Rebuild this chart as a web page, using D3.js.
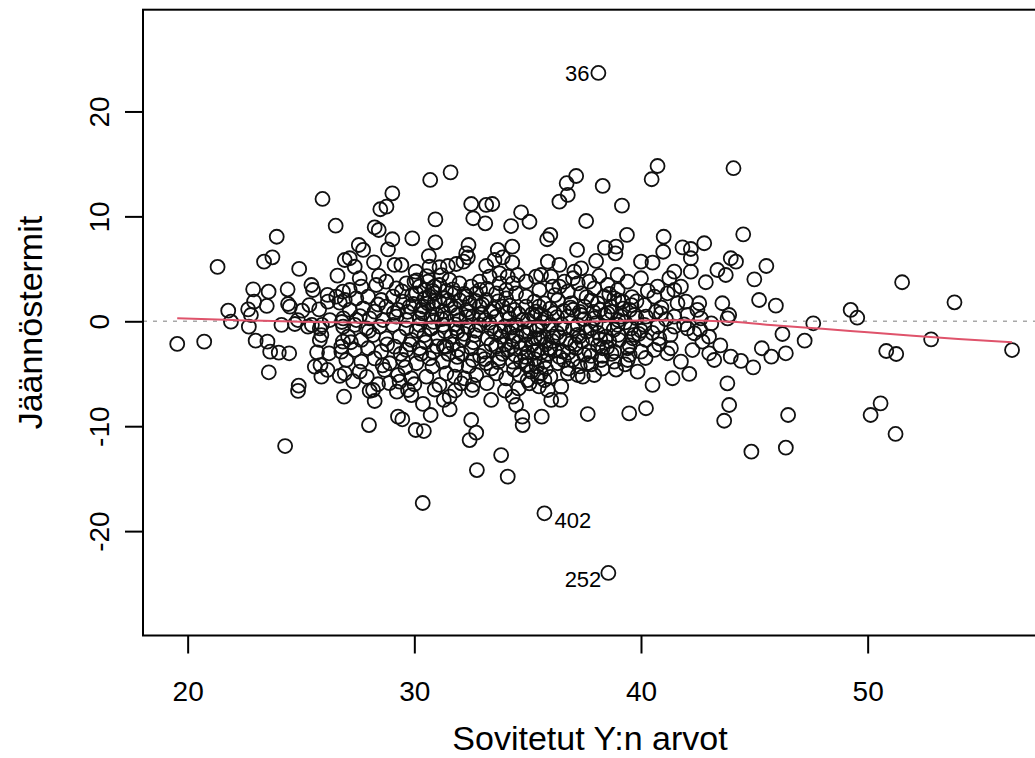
<!DOCTYPE html>
<html>
<head>
<meta charset="utf-8">
<script src="https://cdn.jsdelivr.net/npm/d3@7"></script>
<style>
  body { margin: 0; background: #fff; }
  svg { display: block; }
  text { font-family: "Liberation Sans", Arial, Helvetica, sans-serif; fill: #000; }
</style>
</head>
<body>
<svg id="chart" width="1035" height="758"></svg>
<script>
// Residuals vs fitted values of a linear model: [fitted, residual] pairs.
const xTickValues = [20, 30, 40, 50];
const yTickValues = [-20, -10, 0, 10, 20];
const xTitle = "Sovitetut Y:n arvot";
const yTitle = "Jäännöstermit";

const lowFitted = [
  [25.95,11.66],[26.53,9.11],[23.93,8.06],[23.37,5.68],[23.74,6.10],[21.32,5.18],[24.92,4.99],[26.61,4.35],
  [26.93,5.84],[22.89,3.05],[23.57,2.82],[24.41,3.05],[25.46,3.46],[25.53,2.98],[26.17,2.51],[26.56,2.35],
  [26.85,2.82],[22.93,1.87],[22.67,1.14],[23.49,1.46],[24.43,1.65],[24.51,1.39],[25.37,1.55],[25.05,1.01],
  [25.80,1.14],[26.19,1.87],[26.71,1.77],[21.79,1.01],[21.91,-0.04],[22.79,0.60],[24.14,-0.35],[24.73,-0.26],
  [24.86,0.12],[25.48,-0.35],[25.92,-0.35],[26.27,0.12],[26.80,-0.07],[22.70,-0.51],[19.54,-2.16],[20.73,-1.94],
  [23.00,-1.85],[23.52,-1.94],[23.64,-2.90],[24.02,-2.99],[24.48,-3.05],[23.58,-4.86],[24.90,-6.14],[24.87,-6.64],
  [24.30,-11.89],[25.31,-0.51],[25.83,-0.67],[25.90,-1.31],[25.83,-1.78],[25.71,-2.96],[26.24,-3.05],[25.61,-4.33],
  [25.86,-4.17],[26.17,-4.64],[25.90,-5.28],[26.71,-5.21],[26.90,-7.19],[26.78,-2.90],[26.85,-1.94]
];

const midUpper = [
  [31.60,14.20],[30.70,13.47],[29.03,12.20],[28.50,10.68],[28.77,10.92],[30.93,9.72],[32.51,11.18],[33.17,11.09],
  [33.44,11.18],[32.60,9.82],[33.13,9.34],[34.71,10.39],[35.08,9.49],[34.27,9.08],[28.25,8.96],[28.43,8.70],
  [29.91,7.91],[29.03,7.82],[30.93,7.53],[32.39,7.27],[34.32,7.11],[27.55,7.27],[27.74,6.80],[28.84,6.86],
  [33.68,6.80],[30.64,6.22],[27.15,6.01],[28.22,5.62],[27.37,5.20],[29.13,5.37],[29.43,5.37],[30.67,5.20],
  [31.11,5.15],[31.48,5.27],[31.85,5.46],[32.17,5.68],[32.36,6.10],[32.29,6.48],[33.17,5.27],[33.54,5.84],
  [33.90,6.10],[34.32,5.59],[27.59,4.10],[28.44,4.32],[30.06,4.73]
];

const midLower = [
  [28.03,-6.64],[28.18,-6.55],[28.25,-7.60],[28.00,-9.89],[29.23,-6.71],[29.72,-6.55],[29.87,-7.03],[29.28,-9.09],
  [29.47,-9.34],[30.06,-10.36],[30.42,-10.46],[30.38,-7.88],[30.72,-8.93],[31.30,-7.50],[31.56,-7.19],[31.56,-8.39],
  [32.51,-9.41],[32.73,-10.62],[32.44,-11.32],[32.54,-6.55],[32.58,-6.07],[33.39,-7.50],[33.83,-12.75],[32.76,-14.18],
  [34.12,-14.81],[30.37,-17.32],[34.34,-7.19],[34.49,-7.98],[34.76,-9.09],[34.78,-9.89],[35.08,-5.91],[26.93,-4.96]
];

const midCore = [
  [27.15,2.98],[27.66,3.30],[28.32,3.46],[28.76,3.78],[29.21,3.14],[29.65,3.62],[30.23,3.30],[30.60,3.78],
  [31.11,3.46],[31.55,3.94],[31.99,3.62],[32.51,3.30],[32.88,3.78],[33.32,4.25],[33.76,4.57],[34.12,4.25],
  [34.56,4.41],[34.93,3.78],[35.37,4.25],
  [26.93,2.03],[27.44,2.19],[27.96,2.35],[28.54,2.03],[29.06,2.35],[29.50,1.87],[30.09,2.67],[30.45,2.19],
  [30.89,2.67],[31.33,2.19],[31.78,2.67],[32.29,2.35],[32.73,2.67],[33.17,2.03],[33.61,2.67],[34.05,2.19],
  [34.49,2.67],[34.93,2.35],[35.30,1.87],
  [27.15,1.08],[27.74,1.24],[28.25,0.92],[28.76,1.40],[29.28,1.08],[29.79,1.40],[30.31,1.08],[30.82,1.40],
  [31.26,0.92],[31.78,1.24],[32.29,1.08],[32.88,1.40],[33.39,0.92],[33.90,1.40],[34.42,1.08],[34.93,1.40],
  [35.37,0.92],
  [26.86,0.28],[27.44,0.12],[28.03,0.28],[28.62,0.12],[29.21,0.44],[29.65,0.12],[30.23,0.28],[30.75,0.44],
  [31.41,0.28],[31.99,0.12],[32.58,0.44],[33.10,0.12],[33.61,0.44],[34.20,0.28],[34.78,0.12],[35.30,0.44],
  [30.01,3.78],[30.45,2.98],[30.89,3.30],[30.67,2.35],[31.11,1.87],[33.76,3.62],[34.05,2.98],[34.34,3.62],
  [26.86,-0.51],[27.37,-0.35],[27.88,-0.67],[28.47,-0.51],[29.06,-0.35],[29.65,-0.67],[30.23,-0.35],[30.75,-0.67],
  [31.26,-0.35],[31.85,-0.67],[32.36,-0.51],[32.88,-0.35],[33.39,-0.67],[33.98,-0.51],[34.49,-0.35],[35.08,-0.67],
  [27.08,-1.47],[27.66,-1.78],[28.18,-1.31],[28.76,-1.62],[29.35,-1.47],[29.87,-1.78],[30.45,-1.31],[31.04,-1.62],
  [31.63,-1.47],[32.14,-1.78],[32.66,-1.31],[33.24,-1.62],[33.83,-1.47],[34.34,-1.78],[34.93,-1.31],[35.44,-1.62],
  [26.78,-2.42],[27.37,-2.73],[27.96,-2.57],[28.54,-2.89],[29.13,-2.42],[29.65,-2.73],[30.23,-2.57],[30.82,-2.89],
  [31.41,-2.42],[31.92,-2.73],[32.51,-2.57],[33.10,-2.89],[33.61,-2.42],[34.12,-2.73],[34.71,-2.57],[35.30,-2.89],
  [27.00,-3.69],[27.66,-3.84],[28.25,-3.53],[28.91,-4.00],[29.50,-3.69],[30.09,-4.00],[30.67,-3.53],[31.26,-3.84],
  [31.85,-4.16],[32.58,-3.69],[33.17,-4.00],[33.76,-3.53],[34.34,-3.84],[34.93,-4.16],
  [27.59,-4.80],[28.69,-4.64],[29.28,-5.12],[29.87,-5.44],[30.53,-5.28],[31.41,-4.96],[31.78,-5.28],[32.22,-5.44],
  [32.73,-5.12],[33.61,-4.96],[34.05,-5.44],[34.64,-5.12],[35.15,-4.80],[29.35,-5.75],[32.07,-5.91],[31.11,-6.07]
];

// the densest part of the cloud
const midCoreDense = [
  [29.45,2.85],[29.95,1.65],[30.35,0.75],[30.85,-0.05],[31.35,-0.95],[31.70,-2.20],[32.10,-3.10],[32.45,1.75],
  [32.95,0.65],[33.30,-0.15],[33.55,-1.05],[34.00,-2.20],[34.45,-3.20],[34.80,-1.00],[35.20,0.70],[35.65,-0.10],
  [36.00,1.20],[36.30,-1.10],[36.90,-2.10],[37.50,-3.20],[38.10,-1.10],[38.70,0.90],[39.30,-0.10],[39.90,-1.20],
  [30.10,3.90],[30.55,4.30],[31.20,4.40],[31.70,3.05],[32.20,2.60],[32.70,1.95],[33.20,3.10],[33.70,1.90],
  [34.20,1.50],[34.60,0.70],[29.80,-2.20],[30.30,-3.10],[30.80,-4.30],[31.30,-2.40],[31.90,-3.40],[32.40,-4.30],
  [32.90,-3.30],[33.40,-4.50],[33.90,-3.10],[34.40,-4.60],[34.90,-3.40],[35.40,-4.30],[35.90,-3.10],[36.40,-3.40],
  [36.80,-4.50],[37.30,-4.30],[37.80,-3.30],[38.30,-4.50],[38.90,-4.60],[39.50,-3.20],[35.00,-5.60],[35.50,-6.20],
  [34.60,-6.40],[36.00,-5.30],[33.20,-5.90],[34.00,-6.60],[30.00,-6.00],[30.90,-6.50],[31.80,-6.60],[27.30,-5.70],
  [27.90,-5.30],[28.40,-6.00],[28.90,-5.90],
  [29.70,0.90],[30.10,-0.90],[30.50,-2.00],[30.90,1.90],[31.20,0.20],[31.50,-3.10],[31.90,0.60],[32.20,-1.20],
  [32.60,-2.00],[32.90,3.00],[33.10,-3.60],[33.50,1.20],[33.80,-0.90],[34.10,0.80],[34.30,-2.40],[34.70,-3.80],
  [35.00,0.10],[35.20,-2.20],[35.50,1.40],[35.80,-4.50],[36.10,-1.90],[36.30,0.40],[36.60,-3.70],[36.90,1.30],
  [37.20,-1.30],[37.50,0.20],[37.80,-4.10],[38.10,-2.30],[38.40,0.60],[38.70,-3.10],[39.00,-1.30],[39.20,1.20],
  [39.50,-2.30],[39.80,0.30],[40.20,-3.50],[40.50,-1.10],[40.80,-2.20],[41.10,0.20],
  [29.90,2.50],[30.40,1.40],[30.70,-0.70],[31.00,-2.40],[31.50,2.00],[31.80,-0.30],[32.30,0.40],[32.70,-0.90],
  [33.00,1.60],[33.40,-2.20],[33.70,-3.90],[34.20,-1.10],[34.60,-2.00],[35.00,-3.00],[35.40,-0.80],[35.80,0.30],
  [36.20,-2.80],[36.60,1.00],[37.00,-0.70],[37.40,-1.90],[37.90,0.90],[38.30,-3.30],[38.60,-1.90],[39.00,2.00],
  [39.30,-4.10],[39.70,-1.30],
  [28.00,-0.90],[28.40,1.60],[28.80,-2.20],[29.10,0.80],[29.40,-3.10],[27.60,0.50],[27.20,-2.00],[28.60,-4.20],
  [29.60,-4.40],
  [30.60,1.70],[31.00,0.60],[31.40,2.90],[31.60,1.50],[32.00,2.00],[32.40,0.90],[30.80,2.90],[31.90,-1.00],
  [34.30,-0.60],[34.90,-2.20],[35.30,-3.60],[35.70,-1.50],[36.00,-2.60],[36.40,-1.50],[36.80,-3.00],[35.00,-4.20],
  [35.60,-3.00],[34.50,-1.40],[37.10,-2.20],[37.60,-1.00],[38.20,-1.70],[38.80,-0.80],[37.30,0.90],[38.50,-2.50]
];

const highUpper = [
  [40.73,14.80],[40.47,13.54],[44.08,14.59],[37.14,13.85],[36.72,13.16],[38.31,12.90],[36.77,12.04],[36.40,11.40],
  [39.16,11.02],[37.58,9.56],[36.00,8.23],[35.86,7.82],[39.38,8.23],[41.00,8.06],[42.79,7.44],[41.83,7.05],
  [42.20,6.89],[42.20,6.01],[37.18,6.80],[38.41,7.02],[38.90,7.11],[38.87,6.48],[40.98,6.63],[40.00,5.68],
  [40.51,5.59],[38.02,5.75],[35.89,5.68],[36.40,5.37],[43.96,6.01],[43.74,4.41],[43.37,4.89],[42.20,4.73],
  [41.47,4.73],[41.25,4.10],[42.86,3.72],[40.73,3.30],[40.00,4.10],[38.97,4.41],[39.41,3.78],[38.16,4.32],
  [37.36,5.05],[37.06,4.73],[43.59,1.72],[43.89,0.60],[42.57,1.72],[42.49,1.08],[41.98,1.87],[41.61,1.72],
  [41.17,2.67],[41.47,2.98],[41.76,3.30],[40.15,1.55],[40.66,0.92],[40.22,0.44],[39.50,1.08],[39.58,1.55]
];

const highCore = [
  [35.59,4.41],[36.03,4.25],[36.62,3.78],[37.21,3.62],[37.72,3.78],[38.53,3.46],[38.97,2.98],[35.52,2.98],
  [36.11,3.30],[36.77,2.82],[37.36,2.67],[37.94,3.14],[38.38,2.35],[38.82,2.19],[40.59,2.35],[35.74,1.71],
  [36.33,2.03],[36.92,1.71],[37.50,1.40],[38.09,1.71],[38.68,1.40],[39.19,1.87],[35.59,0.60],[36.18,0.76],
  [36.77,0.44],[37.36,0.60],[37.94,0.28],[38.53,0.76],[39.12,0.44],[39.71,0.60],[40.88,0.76],[41.47,0.44],
  [42.05,0.60],[42.64,0.28],[43.82,0.28],
  [35.52,-0.51],[36.03,-0.35],[36.62,-0.67],[37.21,-0.35],[37.80,-0.67],[38.38,-0.51],[38.97,-0.35],[39.56,-0.67],
  [40.15,-0.35],[40.73,-0.51],[41.47,-0.51],[42.05,-0.67],[35.59,-1.62],[36.11,-1.47],[36.70,-1.78],[37.28,-1.47],
  [37.87,-1.62],[38.46,-1.47],[39.04,-1.78],[39.63,-1.62],[40.22,-1.78],[40.81,-1.62],[35.45,-2.73],[35.96,-2.57],
  [36.55,-2.89],[37.14,-2.57],[37.72,-2.89],[38.31,-2.57],[38.82,-2.89],[39.41,-2.57],[40.00,-2.89],[40.59,-2.73],
  [35.74,-3.84],[36.33,-4.00],[36.99,-3.69],[37.65,-4.00],[38.24,-3.69],[38.82,-3.84],[39.41,-3.69],[35.59,-4.96],
  [37.21,-5.12],
  [36.40,3.30],[37.00,4.10],[37.60,2.30],[38.20,1.10],[38.60,2.60],[39.00,0.10],[39.60,2.30],[40.00,-0.90],
  [40.30,2.90],[40.90,1.30],[41.30,-1.30],[41.90,-0.30],[42.60,-0.80],[43.10,-0.20],[43.50,-2.30],[36.20,2.50],
  [37.80,2.00],[38.00,-0.20],[39.80,1.90],[37.00,1.10],[36.50,-0.30],[35.30,-1.60],[35.80,-2.20]
];

const highLower = [
  [42.35,-1.14],[43.00,-1.47],[42.71,-1.94],[42.27,-2.74],[43.01,-3.05],[43.23,-3.69],[43.96,-3.37],[41.76,-3.85],
  [41.32,-2.57],[41.17,-3.05],[39.85,-4.80],[40.51,-6.07],[41.39,-5.43],[42.13,-5.02],[43.81,-5.91],[43.89,-7.98],
  [43.67,-9.48],[37.65,-8.84],[39.48,-8.77],[40.22,-8.29],[35.62,-9.09],[36.04,-7.50],[36.45,-7.50],[35.89,-6.55],
  [36.48,-6.23],[35.45,-5.28],[35.74,-5.60],[36.77,-4.96],[37.43,-5.28],[37.94,-5.12]
];

const rightTail = [
  [44.51,8.29],[44.19,5.68],[45.53,5.27],[45.00,4.00],[45.21,2.03],[45.95,1.49],[51.52,3.72],[53.83,1.81],
  [49.25,1.08],[49.54,0.34],[47.60,-0.19],[46.24,-1.21],[47.22,-1.85],[45.33,-2.57],[45.75,-3.37],[46.39,-3.05],
  [44.41,-3.78],[44.95,-4.39],[52.80,-1.72],[50.82,-2.83],[51.26,-3.12],[56.37,-2.74],[46.49,-8.93],[50.57,-7.82],
  [50.13,-8.93],[51.23,-10.74],[44.87,-12.43],[46.39,-12.05]
];

// Flagged observations (largest absolute residuals)
const flaggedIds = ["36", "402", "252"];
const flaggedFitted = [38.12, 35.74, 38.56];
const flaggedResid = [23.67, -18.30, -23.99];

// Smoothed trend of the residuals
const smoothFitted = [19.54, 22, 25, 28, 31, 34, 37, 40, 42, 44, 46, 48, 50, 52, 54, 56.37];
const smoothResid  = [0.29, 0.12, -0.05, -0.13, -0.15, -0.14, -0.06, 0.08, 0.10, -0.05, -0.40, -0.72, -1.05, -1.38, -1.68, -2.00];

const allPoints = [].concat(lowFitted, midUpper, midLower, midCore, midCoreDense, highUpper, highCore,
  highLower, rightTail, flaggedFitted.map((f, i) => [f, flaggedResid[i]]));

// ---- layout ----
const box = { left: 143, right: 1049, top: 9.7, bottom: 635.5 };
const x = d3.scaleLinear().domain([18.03, 58.0]).range([box.left, box.right]);
const y = d3.scaleLinear().domain([-29.95, 29.7]).range([box.bottom, box.top]);
const plainNumber = d => String(d);   // ASCII hyphen for negatives

const svg = d3.select("#chart");

svg.append("defs").append("clipPath").attr("id", "plotClip")
  .append("rect").attr("x", box.left).attr("y", box.top)
  .attr("width", box.right - box.left).attr("height", box.bottom - box.top);

const plot = svg.append("g").attr("clip-path", "url(#plotClip)");

// zero reference line
plot.append("line")
  .attr("x1", box.left).attr("x2", box.right)
  .attr("y1", y(0)).attr("y2", y(0))
  .attr("stroke", "#a8a8a8").attr("stroke-width", 1.6)
  .attr("stroke-dasharray", "4,6");

// observations
plot.append("g").selectAll("circle").data(allPoints).join("circle")
  .attr("cx", d => x(d[0])).attr("cy", d => y(d[1])).attr("r", 7)
  .attr("fill", "none").attr("stroke", "#111").attr("stroke-width", 1.8);

// smoother
plot.append("path")
  .datum(smoothFitted.map((f, i) => [f, smoothResid[i]]))
  .attr("fill", "none").attr("stroke", "#df536b").attr("stroke-width", 2)
  .attr("d", d3.line().x(d => x(d[0])).y(d => y(d[1])).curve(d3.curveMonotoneX));

// labels of flagged observations
const labelStyle = {
  "36":  { anchor: "end",   dx: -9,  dy: 8 },
  "402": { anchor: "start", dx: 10,  dy: 15 },
  "252": { anchor: "end",   dx: -7,  dy: 14 }
};
svg.append("g").selectAll("text").data(flaggedIds).join("text")
  .attr("x", (d, i) => x(flaggedFitted[i]) + labelStyle[d].dx)
  .attr("y", (d, i) => y(flaggedResid[i]) + labelStyle[d].dy)
  .attr("text-anchor", d => labelStyle[d].anchor)
  .attr("font-size", 22)
  .text(d => d);

// frame
svg.append("rect")
  .attr("x", box.left).attr("y", box.top)
  .attr("width", box.right - box.left).attr("height", box.bottom - box.top)
  .attr("fill", "none").attr("stroke", "#000").attr("stroke-width", 2);

// x axis
const xAxis = svg.append("g").attr("transform", `translate(0,${box.bottom})`)
  .call(d3.axisBottom(x).tickValues(xTickValues).tickSize(18).tickPadding(28).tickFormat(plainNumber));
xAxis.select(".domain").remove();
xAxis.selectAll(".tick line").attr("stroke", "#000").attr("stroke-width", 2);
xAxis.selectAll("text").attr("font-size", 28).attr("fill", "#000");

// y axis (labels parallel to the axis)
const yAxis = svg.append("g").attr("transform", `translate(${box.left},0)`)
  .call(d3.axisLeft(y).tickValues(yTickValues).tickSize(18).tickFormat(plainNumber));
yAxis.select(".domain").remove();
yAxis.selectAll(".tick line").attr("stroke", "#000").attr("stroke-width", 2);
yAxis.selectAll("text")
  .attr("x", null).attr("dy", null)
  .attr("text-anchor", "middle")
  .attr("transform", "translate(-34,0) rotate(-90)")
  .attr("font-size", 28).attr("fill", "#000");

// titles
svg.append("text")
  .attr("x", (box.left + box.right) / 2 - 6).attr("y", 750)
  .attr("text-anchor", "middle").attr("font-size", 34)
  .text(xTitle);

svg.append("text")
  .attr("transform", `translate(42,${(box.top + box.bottom) / 2}) rotate(-90)`)
  .attr("text-anchor", "middle").attr("font-size", 34)
  .text(yTitle);
</script>
</body>
</html>
